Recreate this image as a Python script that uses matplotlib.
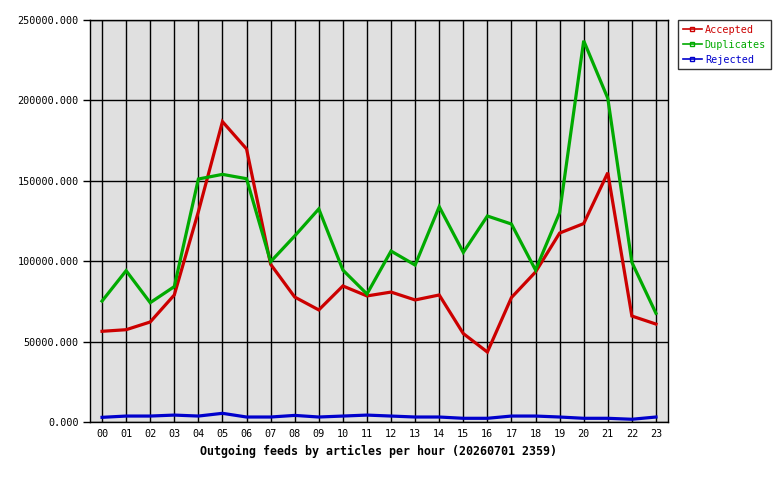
import matplotlib
matplotlib.use('Agg')
import matplotlib.pyplot as plt
import matplotlib.lines as mlines
import numpy as np

# valeurs
hours = ['00', '01', '02', '03', '04', '05', '06', '07', '08', '09', '10', '11',
         '12', '13', '14', '15', '16', '17', '18', '19', '20', '21', '22', '23']
accepted = [56400, 57400, 62200, 79000, 130800, 186800, 169800, 98100,
            77700, 69700, 84600, 78400, 80800, 75900, 79000, 55000,
            43500, 77400, 93300, 117500, 123400, 155000, 65900, 60900]
duplicates = [75200, 94100, 74200, 84200, 151100, 154000, 151300, 99700,
              115700, 132500, 94500, 79600, 106300, 97600, 133900, 105500,
              128100, 123100, 94500, 130200, 237100, 201300, 99300, 67600]
rejected = [2900, 3700, 3700, 4300, 3700, 5400, 3100, 3100,
            4100, 3100, 3700, 4300, 3700, 3100, 3100, 2300,
            2300, 3700, 3700, 3100, 2300, 2300, 1700, 3100]
yticks = [0, 50000, 100000, 150000, 200000, 250000]

series = [('Accepted', accepted, '#cc0000'),
          ('Duplicates', duplicates, '#00aa00'),
          ('Rejected', rejected, '#0000cc')]

plt.rcParams['font.family'] = 'DejaVu Sans Mono'

fig = plt.figure(figsize=(7.8, 4.8), dpi=100)
ax = fig.add_axes([90 / 780, 58 / 480, 578 / 780, 402 / 480])
ax.set_facecolor('#e0e0e0')

x = np.arange(len(hours))
for name, vals, col in series:
    ax.plot(x, vals, color=col, lw=2.3, label=name, solid_joinstyle='miter')

ax.set_xlim(-0.5, 23.5)
ax.set_ylim(0, 250000)
ax.set_xticks(x)
ax.set_xticklabels(hours, fontsize=7.3)
ax.set_yticks(yticks)
ax.set_yticklabels([f'{v}.000' for v in yticks], fontsize=7.3)
ax.grid(True, color='black', lw=1)
ax.set_axisbelow(True)
ax.tick_params(axis='x', length=0, pad=5)
ax.tick_params(axis='y', length=5, width=1, pad=3)
for s in ax.spines.values():
    s.set_linewidth(1)

ax.set_xlabel('Outgoing feeds by articles per hour (20260701 2359)',
              fontsize=8.4, fontweight='bold', labelpad=4)

# légende avec petit carré au milieu de chaque trait
leg_handles = [mlines.Line2D([], [], color=col, lw=1.2, marker='s', markersize=3,
                             markerfacecolor='none', markeredgecolor=col)
               for _, _, col in series]
leg = fig.legend(leg_handles, [s[0] for s in series], loc='upper left',
                 bbox_to_anchor=(678 / 780, 1 - 20 / 480), fontsize=7.3,
                 frameon=True, fancybox=False, edgecolor='black',
                 handlelength=1.9, handletextpad=0.3, borderpad=0.45,
                 labelspacing=0.5, borderaxespad=0)
leg.get_frame().set_linewidth(1)
for t, (_, _, col) in zip(leg.get_texts(), series):
    t.set_color(col)

fig.savefig('out.png', dpi=100)
